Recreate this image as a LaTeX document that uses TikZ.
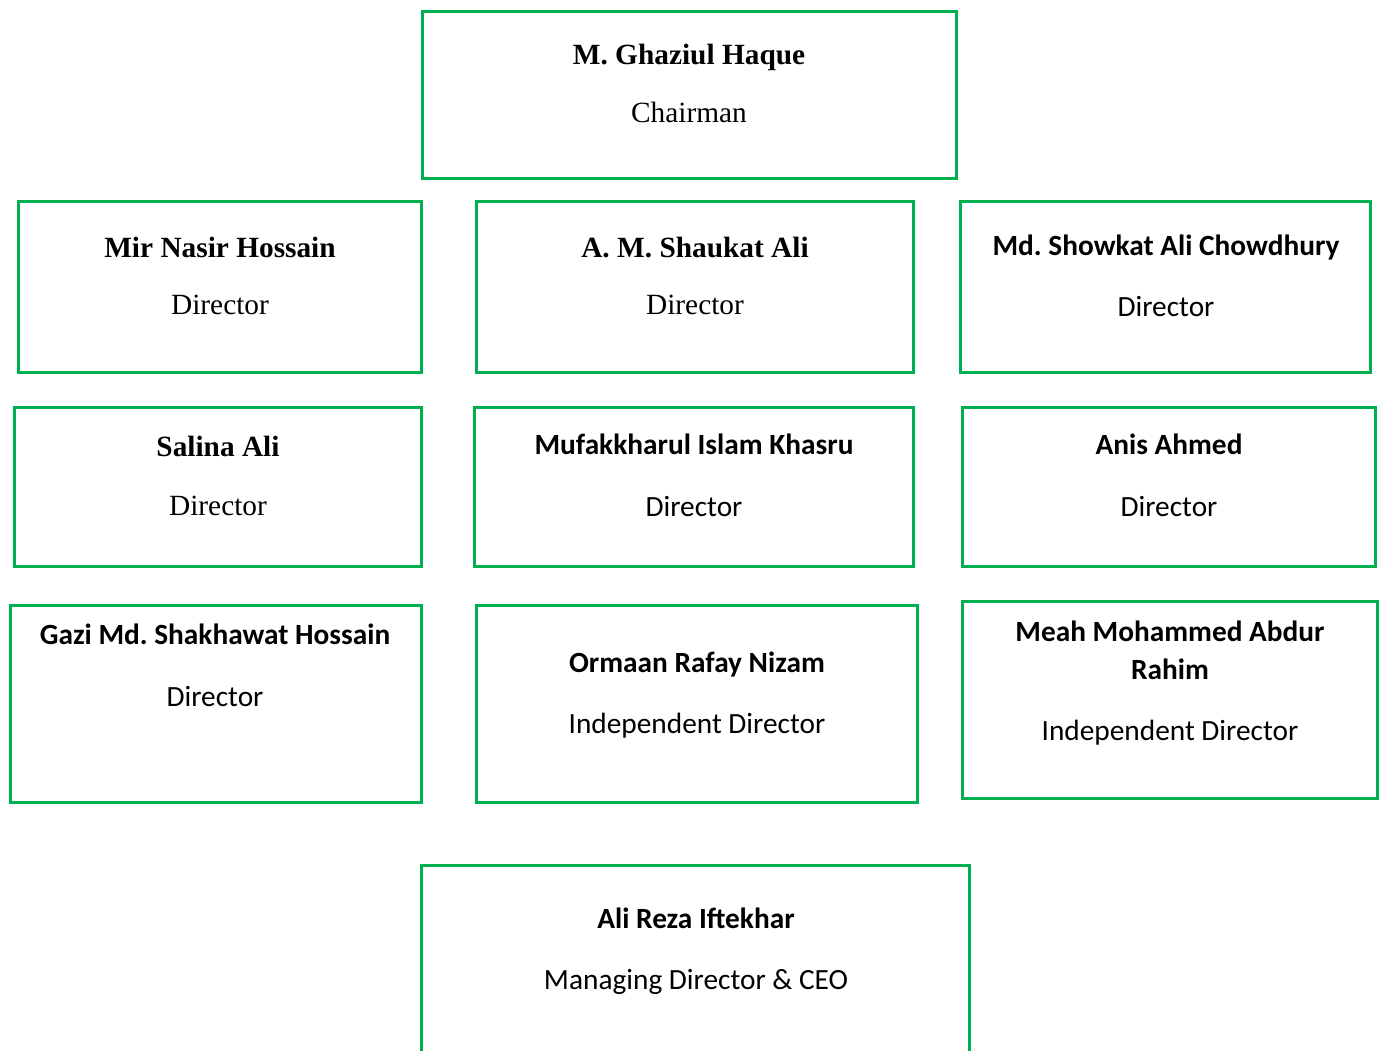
\documentclass[tikz,border=0pt]{standalone}
\usepackage{fontspec}
\setmainfont{Liberation Serif}
\newfontfamily\carlito{Carlito}
\usepackage{tikz}
\usetikzlibrary{positioning}
\frenchspacing

\definecolor{boardgreen}{HTML}{00B050}

\tikzset{
  box/.style={draw=boardgreen, line width=2.25pt},
  sername/.style={anchor=base, font=\fontsize{22}{26}\selectfont\bfseries},
  serrole/.style={anchor=base, font=\fontsize{22}{26}\selectfont},
  sansname/.style={anchor=base, align=center, font=\carlito\fontsize{22}{28.5}\selectfont\bfseries},
  sansrole/.style={anchor=base, font=\carlito\fontsize{22}{26}\selectfont},
}

\begin{document}
\begin{tikzpicture}[x=0.75pt, y=-0.75pt]
\useasboundingbox (0,0) rectangle (1381,1050);
\clip (0,0) rectangle (1381,1050);
% chairman
\path[box] (422,11) rectangle (956,178);
\node[sername] (chairname) at (689,64) {M. Ghaziul Haque};
\node[serrole] (chairrole) at (689,122) {Chairman};
% first row of directors
\path[box] (18,201) rectangle (421,372);
\node[sername] (mirname) at (220,257) {Mir Nasir Hossain};
\node[serrole] (mirrole) at (220,314) {Director};
\path[box] (476,201) rectangle (913,372);
\node[sername] (shaukatname) at (695,257) {A. M. Shaukat Ali};
\node[serrole] (shaukatrole) at (695,314) {Director};
\path[box] (960,201) rectangle (1370,372);
\node[sansname] (showkatname) at (1166,255) {Md. Showkat Ali Chowdhury};
\node[sansrole] (showkatrole) at (1166,316) {Director};
% second row
\path[box] (14,407) rectangle (421,566);
\node[sername] (salinaname) at (218,456) {Salina Ali};
\node[serrole] (salinarole) at (218,515) {Director};
\path[box] (474,407) rectangle (913,566);
\node[sansname] (khasruname) at (694,454) {Mufakkharul Islam Khasru};
\node[sansrole] (khasrurole) at (694,516) {Director};
\path[box] (962,407) rectangle (1375,566);
\node[sansname] (anisname) at (1169,454) {Anis Ahmed};
\node[sansrole] (anisrole) at (1169,516) {Director};
% third row
\path[box] (10,605) rectangle (421,802);
\node[sansname] (gaziname) at (215,644) {Gazi Md. Shakhawat Hossain};
\node[sansrole] (gazirole) at (215,706) {Director};
\path[box] (476,605) rectangle (917,802);
\node[sansname] (ormaanname) at (697,672) {Ormaan Rafay Nizam};
\node[sansrole] (ormaanrole) at (697,733) {Independent Director};
\path[box] (962,601) rectangle (1377,798);
\node[sansname] (meahname) at (1170,679) {Meah Mohammed Abdur\\Rahim};
\node[sansrole] (meahrole) at (1170,740) {Independent Director};
% managing director
\path[box] (421,865) rectangle (969,1070);
\node[sansname] (mdname) at (696,928) {Ali Reza Iftekhar};
\node[sansrole] (mdrole) at (696,989) {Managing Director \& CEO};
\end{tikzpicture}
\end{document}
